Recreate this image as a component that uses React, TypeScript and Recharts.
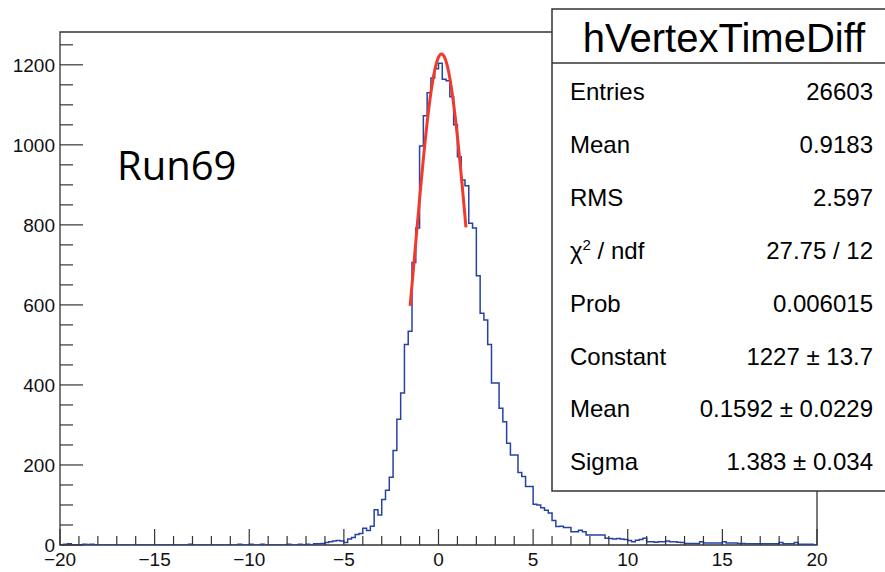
import { ComposedChart, Line, XAxis, YAxis, ReferenceArea } from "recharts";

// histogram hVertexTimeDiff: 200 bins from -20 to 20
const BIN_LOW = -20;
const BIN_WIDTH = 0.2;
const COUNTS = [
  0, 2, 3, 0, 0, 0, 2, 1, 2, 0,
  0, 0, 0, 0, 0, 0, 0, 0, 0, 0,
  0, 0, 0, 0, 0, 0, 0, 0, 0, 0,
  0, 0, 0, 0, 2, 0, 0, 0, 0, 0,
  0, 0, 0, 0, 0, 0, 0, 2, 0, 0,
  2, 0, 0, 2, 0, 0, 0, 0, 0, 0,
  2, 0, 0, 2, 0, 2, 0, 3, 3, 4,
  6, 8, 10, 11, 10, 6, 15, 19, 26, 29,
  42, 36, 47, 88, 75, 114, 137, 169, 236, 314,
  380, 501, 534, 706, 792, 997, 1073, 1130, 1167, 1190,
  1204, 1164, 1160, 1120, 1050, 970, 912, 898, 804, 792,
  673, 579, 562, 501, 405, 405, 342, 308, 254, 225,
  225, 181, 171, 146, 146, 102, 100, 93, 87, 80,
  61, 46, 47, 44, 44, 33, 33, 37, 33, 25,
  25, 25, 25, 25, 17, 16, 15, 16, 15, 14,
  11, 8, 12, 14, 17, 8, 8, 7, 8, 8,
  10, 8, 8, 7, 6, 4, 4, 4, 4, 8,
  5, 5, 5, 5, 5, 8, 5, 5, 5, 4,
  4, 3, 3, 3, 3, 3, 3, 3, 3, 3,
  6, 3, 3, 3, 6, 2, 2, 2, 2, 0,
];

// gaus fit parameters as printed in the stats box
const FIT_CONSTANT = 1227;
const FIT_MEAN = 0.1592;
const FIT_SIGMA = 1.383;
const FIT_RANGE = [-1.5, 1.45];

const X_TICKS = [
  -20, -19, -18, -17, -16, -15, -14, -13, -12, -11, -10, -9, -8, -7, -6, -5,
  -4, -3, -2, -1, 0, 1, 2, 3, 4, 5, 6, 7, 8, 9, 10, 11, 12, 13, 14, 15, 16,
  17, 18, 19, 20,
];
const X_LABELS = [-20, -15, -10, -5, 0, 5, 10, 15, 20];
const Y_TICKS = [
  0, 50, 100, 150, 200, 250, 300, 350, 400, 450, 500, 550, 600, 650, 700, 750,
  800, 850, 900, 950, 1000, 1050, 1100, 1150, 1200, 1250,
];
const Y_LABELS = [0, 200, 400, 600, 800, 1000, 1200];
const Y_MAX = 1282;

const STATS_TITLE = "hVertexTimeDiff";
const STATS_LABELS = ["Entries", "Mean", "RMS", "chi2", "Prob", "Constant", "Mean", "Sigma"];
const STATS_VALUES = [
  "26603",
  "0.9183",
  "2.597",
  "27.75 / 12",
  "0.006015",
  "1227 \u00b1 13.7",
  "0.1592 \u00b1 0.0229",
  "1.383 \u00b1 0.034",
];

const W = 885;
const H = 572;
const PLOT = { left: 60, right: 817, top: 32, bottom: 545 };
const AXIS_COLOR = "#333";
const FONT = "'Liberation Sans', Arial, Helvetica, sans-serif";

const histData = [
  ...COUNTS.map((c, i) => ({ x: +(BIN_LOW + i * BIN_WIDTH).toFixed(2), count: c })),
  { x: BIN_LOW + COUNTS.length * BIN_WIDTH, count: COUNTS[COUNTS.length - 1] },
];

const fitData: { x: number; fit: number }[] = [];
for (let x = FIT_RANGE[0]; x <= FIT_RANGE[1] + 1e-9; x += 0.025) {
  const z = (x - FIT_MEAN) / FIT_SIGMA;
  fitData.push({ x, fit: FIT_CONSTANT * Math.exp(-0.5 * z * z) });
}

const fmt = (v: number) => (v < 0 ? "\u2212" + Math.abs(v) : String(v));

function XTick(props: any) {
  const { x, payload } = props;
  const v = payload.value;
  const major = X_LABELS.includes(v);
  return (
    <g>
      <line x1={x} x2={x} y1={PLOT.bottom} y2={PLOT.bottom - (major ? 16 : 9)} stroke={AXIS_COLOR} strokeWidth={1.2} />
      {major && (
        <text x={x} y={PLOT.bottom + 21} textAnchor="middle" fontSize={19} fontFamily={FONT} fill="#111">
          {fmt(v)}
        </text>
      )}
    </g>
  );
}

function YTick(props: any) {
  const { y, payload } = props;
  const v = payload.value;
  const major = Y_LABELS.includes(v);
  return (
    <g>
      <line x1={PLOT.left} x2={PLOT.left + (major ? 23 : 13)} y1={y} y2={y} stroke={AXIS_COLOR} strokeWidth={1.2} />
      {major && (
        <text x={PLOT.left - 5} y={y + 7} textAnchor="end" fontSize={19} fontFamily={FONT} fill="#111">
          {v}
        </text>
      )}
    </g>
  );
}

function StatsBox() {
  const rowY = (i: number) => 100 + i * 52.9;
  return (
    <svg width={W} height={H} style={{ position: "absolute", left: 0, top: 0, pointerEvents: "none" }}>
      <text x={117} y={180} fontSize={40} fontFamily="'Open Sans', sans-serif" fill="#000">
        Run69
      </text>
      <rect x={552} y={9} width={340} height={482} fill="#fff" stroke={AXIS_COLOR} strokeWidth={1.5} />
      <line x1={552} x2={W} y1={63} y2={63} stroke={AXIS_COLOR} strokeWidth={1.5} />
      <text x={724} y={52} textAnchor="middle" fontSize={40} fontFamily={FONT} fill="#000">
        {STATS_TITLE}
      </text>
      {STATS_LABELS.map((label, i) => (
        <g key={i}>
          <text x={570} y={rowY(i)} fontSize={24} fontFamily={FONT} fill="#000">
            {label === "chi2" ? (
              <>
                {"\u03c7"}
                <tspan dy={-9} fontSize={15}>2</tspan>
                <tspan dy={9}>{" / ndf"}</tspan>
              </>
            ) : (
              label
            )}
          </text>
          <text x={873} y={rowY(i)} textAnchor="end" fontSize={24} fontFamily={FONT} fill="#000">
            {STATS_VALUES[i]}
          </text>
        </g>
      ))}
    </svg>
  );
}

export default function App() {
  return (
    <div style={{ position: "absolute", left: 0, top: 0, width: W, height: H, background: "#fff" }}>
      <ComposedChart
        width={W}
        height={H}
        data={histData}
        margin={{ top: PLOT.top, right: W - PLOT.right, bottom: 0, left: 0 }}
      >
        <XAxis
          type="number"
          dataKey="x"
          domain={[-20, 20]}
          ticks={X_TICKS}
          interval={0}
          tick={<XTick />}
          tickLine={false}
          axisLine={false}
          height={H - PLOT.bottom}
          allowDataOverflow
        />
        <YAxis
          type="number"
          domain={[0, Y_MAX]}
          ticks={Y_TICKS}
          interval={0}
          tick={<YTick />}
          tickLine={false}
          axisLine={false}
          width={PLOT.left}
          allowDataOverflow
        />
        <ReferenceArea
          x1={-20}
          x2={20}
          y1={0}
          y2={Y_MAX}
          fill="none"
          fillOpacity={0}
          stroke={AXIS_COLOR}
          strokeWidth={1.3}
          strokeOpacity={1}
          ifOverflow="visible"
        />
        <Line
          type="stepAfter"
          dataKey="count"
          stroke="#2443a3"
          strokeWidth={1.5}
          dot={false}
          activeDot={false}
          isAnimationActive={false}
        />
        <Line
          data={fitData}
          type="linear"
          dataKey="fit"
          stroke="#f03a2d"
          strokeWidth={3}
          dot={false}
          activeDot={false}
          isAnimationActive={false}
        />
      </ComposedChart>
      <StatsBox />
    </div>
  );
}
